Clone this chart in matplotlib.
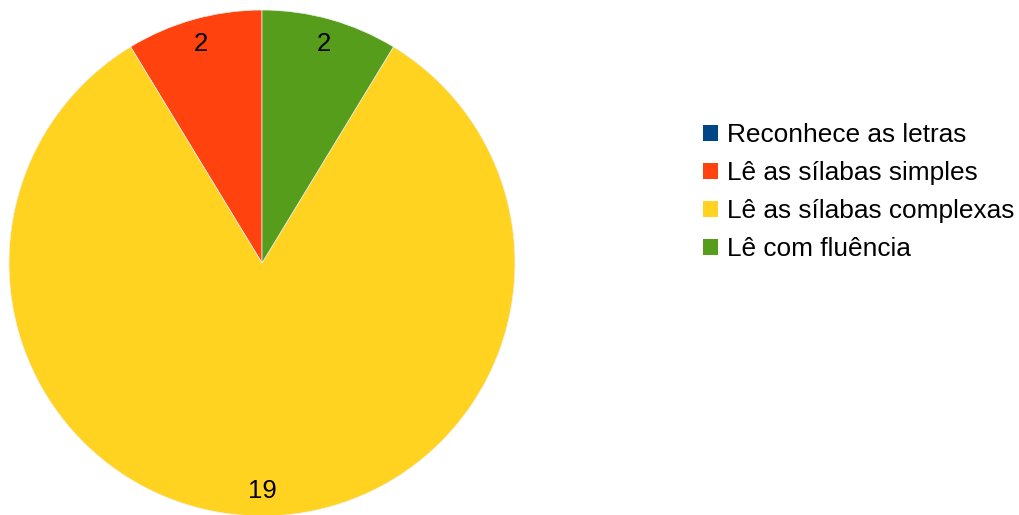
import matplotlib.pyplot as plt
from matplotlib.patches import Patch

plt.rcParams['font.family'] = ['Liberation Sans', 'DejaVu Sans']

categories = ['Reconhece as letras', 'Lê as sílabas simples',
              'Lê as sílabas complexas', 'Lê com fluência']
values = [0, 2, 19, 2]
colors = ['#004586', '#ff420e', '#ffd320', '#579d1c']

total = sum(values)


def count_label(pct):
    n = int(round(pct * total / 100.0))
    return '' if n == 0 else str(n)


fig = plt.figure(figsize=(10.19, 5.15), dpi=100)
W, H = 1019, 515
cx, cy, r = 262, 263, 253
ax = fig.add_axes([(cx - r) / W, 1 - (cy + r) / H, 2 * r / W, 2 * r / H])

wedges, texts, autotexts = ax.pie(
    values, colors=colors, startangle=90, counterclock=True,
    autopct=count_label, pctdistance=0.9, radius=1.0,
    wedgeprops=dict(linewidth=0.5, edgecolor='#f0f0f0'),
    textprops=dict(fontsize=18.5, color='black'))
ax.set_xlim(-1, 1)
ax.set_ylim(-1, 1)
ax.set_aspect('auto')

handles = [Patch(facecolor=c, edgecolor='none') for c in colors]
fig.legend(handles, categories, loc='upper left',
           bbox_to_anchor=(703 / W, 1 - 123.5 / H), frameon=False,
           fontsize=18.9, handlelength=0.58, handleheight=0.58,
           handletextpad=0.35, labelspacing=0.53, borderpad=0, borderaxespad=0)

fig.savefig('out.png', dpi=100)
